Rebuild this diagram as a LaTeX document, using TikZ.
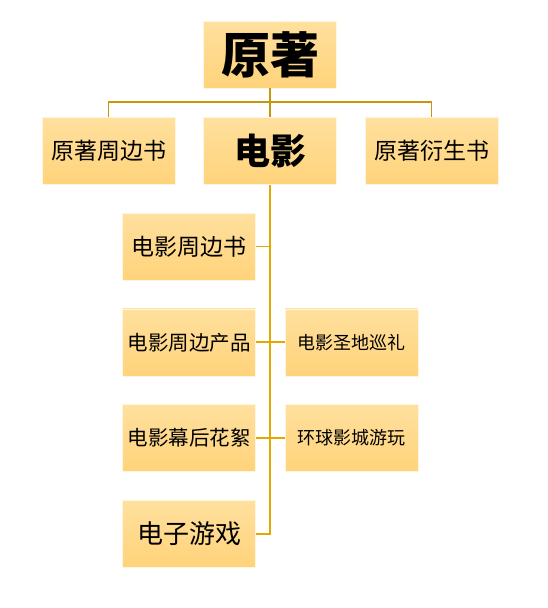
\documentclass[tikz,border=0pt]{standalone}
\usepackage{fontspec}
\newfontfamily\cjk{Noto Sans CJK SC}
\usetikzlibrary{positioning}
\definecolor{boxtop}{RGB}{255,224,158}
\definecolor{boxbottom}{RGB}{255,211,122}
\definecolor{linkupper}{RGB}{200,150,10}
\definecolor{linklower}{RGB}{226,170,0}
\tikzstyle{item}=[
	rectangle,
	draw=white!70!boxtop,
	line width=0.5pt,
	top color=boxtop,
	bottom color=boxbottom,
	minimum width=133pt,
	minimum height=67pt,
	inner sep=0pt,
	font=\cjk,
	node distance=28.3pt and 28pt
]
\tikzstyle{link}=[
	line width=1.6pt,
	draw=linkupper
]
\tikzstyle{sublink}=[
	line width=1.8pt,
	draw=linklower
]

\begin{document}
\begin{tikzpicture}[x=1pt,y=1pt]
\useasboundingbox (0,0) rectangle (547,-608);
\node [item, font=\cjk\bfseries\fontsize{49}{54}\selectfont] (Yuanzhu) at (270,-54.5) {原著};
\node [item, font=\cjk\bfseries\fontsize{36}{40}\selectfont] (Dianying) [below=29pt of Yuanzhu] {电影};
\node [item, font=\cjk\fontsize{23}{27}\selectfont] (YuanzhuZhoubian) [left=of Dianying] {原著周边书};
\node [item, font=\cjk\fontsize{23}{27}\selectfont] (YuanzhuYansheng) [right=of Dianying] {原著衍生书};
\node [item, font=\cjk\fontsize{23}{27}\selectfont] (DianyingShu) [below=28pt of Dianying, xshift=-81pt] {电影周边书};
\node [item, font=\cjk\fontsize{20.5}{24}\selectfont] (DianyingChanpin) [below=of DianyingShu] {电影周边产品};
\node [item, font=\cjk\fontsize{20.5}{24}\selectfont] (DianyingHuaxu) [below=of DianyingChanpin] {电影幕后花絮};
\node [item, font=\cjk\fontsize{26}{30}\selectfont] (Youxi) [below=of DianyingHuaxu] {电子游戏};
\node [item, font=\cjk\fontsize{18}{22}\selectfont] (Shengdi) [right=29pt of DianyingChanpin] {电影圣地巡礼};
\node [item, font=\cjk\fontsize{18}{22}\selectfont] (Huanqiu) [right=29pt of DianyingHuaxu] {环球影城游玩};

% upper level
\coordinate (Hub) at ([yshift=-14pt]Yuanzhu.south);
\draw [link] (Yuanzhu.south) -- (Dianying.north);
\draw [link] (YuanzhuZhoubian.north) |- (Hub) -| (YuanzhuYansheng.north);

% film branch
\draw [sublink] (Dianying.south) |- (Youxi.east);
\draw [sublink] (DianyingShu.east) -- (DianyingShu.east -| Dianying.south);
\draw [sublink] (DianyingChanpin.east) -- (Shengdi.west);
\draw [sublink] (DianyingHuaxu.east) -- (Huanqiu.west);
\end{tikzpicture}
\end{document}
